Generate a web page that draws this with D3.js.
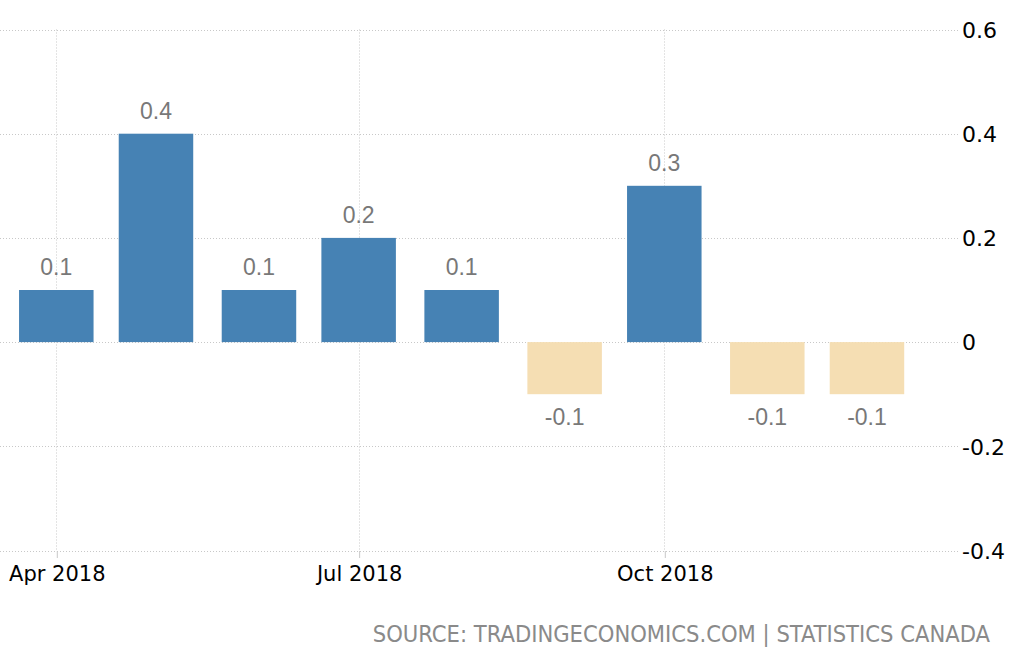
<!DOCTYPE html>
<html>
<head>
<meta charset="utf-8">
<script src="https://cdn.jsdelivr.net/npm/d3@7"></script>
<style>
  html, body { margin: 0; padding: 0; background: #fff; }
  svg { display: block; }
</style>
</head>
<body>
<svg id="chart" width="1033" height="654"></svg>
<script>
const months = ["2018-04-01","2018-05-01","2018-06-01","2018-07-01","2018-08-01","2018-09-01","2018-10-01","2018-11-01","2018-12-01"];
const values = [0.1, 0.4, 0.1, 0.2, 0.1, -0.1, 0.3, -0.1, -0.1];
const yTicks = [-0.4, -0.2, 0, 0.2, 0.4, 0.6];
const xTickDates = ["2018-04-01","2018-07-01","2018-10-01"];
const xTickLabels = ["Apr 2018","Jul 2018","Oct 2018"];
const sourceText = "SOURCE: TRADINGECONOMICS.COM | STATISTICS CANADA";

const parse = d3.utcParse("%Y-%m-%d");
const data = months.map((m, i) => ({date: parse(m), value: values[i]}));
const fmt = v => v === 0 ? "0" : d3.format(".1f")(v).replace("\u2212", "-");

const svg = d3.select("#chart");
const plotLeft = 0, plotRight = 958, plotTop = 29.5, plotBottom = 550.5;

const x = d3.scaleUtc()
  .domain([parse("2018-04-01"), parse("2018-10-01")])
  .range([56.3, 664.3]);
const y = d3.scaleLinear().domain([-0.4, 0.6]).range([plotBottom, plotTop]);
const barW = 74.5;

// horizontal gridlines
svg.append("g").selectAll("line").data(yTicks).join("line")
  .attr("x1", plotLeft).attr("x2", plotRight)
  .attr("y1", d => Math.round(y(d)) + 0.5).attr("y2", d => Math.round(y(d)) + 0.5)
  .attr("stroke", "#c8c8c8").attr("stroke-width", 1).attr("stroke-dasharray", "1,2");

// vertical gridlines
const xt = xTickDates.map(parse);
svg.append("g").selectAll("line").data(xt).join("line")
  .attr("x1", d => Math.round(x(d)) + 0.5).attr("x2", d => Math.round(x(d)) + 0.5)
  .attr("y1", plotTop).attr("y2", plotBottom)
  .attr("stroke", "#c8c8c8").attr("stroke-width", 1).attr("stroke-dasharray", "1,2");

// bars
svg.append("g").selectAll("rect").data(data).join("rect")
  .attr("x", d => x(d.date) - barW / 2)
  .attr("width", barW)
  .attr("y", d => y(Math.max(0, d.value)))
  .attr("height", d => Math.abs(y(d.value) - y(0)))
  .attr("fill", d => d.value >= 0 ? "#4682B4" : "#F5DEB3");

// bar labels
svg.append("g").selectAll("text").data(data).join("text")
  .attr("x", d => x(d.date))
  .attr("y", d => d.value >= 0 ? y(d.value) - 15 : y(d.value) + 31)
  .attr("text-anchor", "middle")
  .attr("font-family", "Liberation Sans, Arial, sans-serif")
  .attr("font-size", 23)
  .attr("fill", "#787878")
  .text(d => fmt(d.value));

// x axis
const xAxis = d3.axisBottom(x).tickValues(xt)
  .tickFormat((d, i) => xTickLabels[i]).tickSize(7).tickPadding(8);
const gx = svg.append("g").attr("transform", `translate(0.5,${Math.round(plotBottom)})`).call(xAxis);
gx.select(".domain").remove();
gx.selectAll(".tick line").attr("stroke", "#c8c8c8");
gx.selectAll(".tick text")
  .attr("font-family", "DejaVu Sans, sans-serif").attr("font-size", 21).attr("fill", "#000");

// y axis (right, left-aligned labels)
const yAxis = d3.axisRight(y).tickValues(yTicks)
  .tickFormat(fmt).tickSize(0).tickPadding(0);
const gy = svg.append("g").attr("transform", `translate(962,0)`).call(yAxis);
gy.select(".domain").remove();
gy.selectAll(".tick text")
  .attr("font-family", "DejaVu Sans, sans-serif").attr("font-size", 22).attr("fill", "#000")
  .attr("text-anchor", "start").attr("dy", "0.35em");

// source
svg.append("text")
  .attr("x", 990).attr("y", 642)
  .attr("text-anchor", "end")
  .attr("font-family", "DejaVu Sans Condensed, DejaVu Sans, sans-serif")
  .attr("font-size", 23.5)
  .attr("fill", "#8a8a8a")
  .text(sourceText);
</script>
</body>
</html>
